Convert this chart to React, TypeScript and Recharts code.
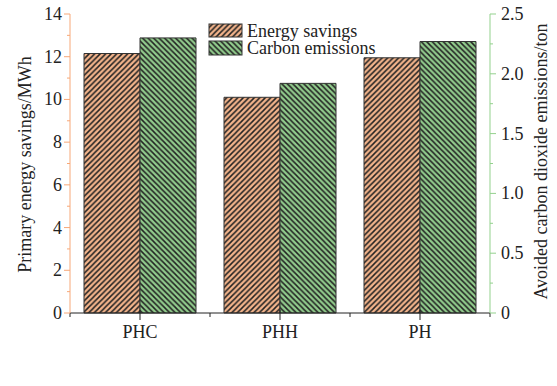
import React from 'react';
import { BarChart, Bar, XAxis, YAxis, Legend } from 'recharts';

const categories = ['PHC', 'PHH', 'PH'];
const energySavings = [12.15, 10.1, 11.95];
const carbonEmissions = [2.3, 1.92, 2.27];
const leftTicks = [0, 1, 2, 3, 4, 5, 6, 7, 8, 9, 10, 11, 12, 13, 14];
const rightTicks = [0, 0.25, 0.5, 0.75, 1, 1.25, 1.5, 1.75, 2, 2.25, 2.5];

const data = categories.map((c, i) => ({ category: c, energy: energySavings[i], carbon: carbonEmissions[i] }));

const ORANGE = '#F3B48B';
const GREEN = '#91CB8C';
const ORANGE_AXIS = '#F7A878';
const GREEN_AXIS = '#93D18D';
const FONT = '"Liberation Serif", "Times New Roman", serif';

const Patterns = ({ suffix }: { suffix: string }) => (
  <defs>
    <pattern id={`hatchO${suffix}`} patternUnits="userSpaceOnUse" width="5.5" height="5.5">
      <rect width="5.5" height="5.5" fill={ORANGE} />
      <path d="M0,5.5 L5.5,0 M-1.375,1.375 L1.375,-1.375 M4.125,6.875 L6.875,4.125" stroke="#222" strokeWidth="1.5" />
    </pattern>
    <pattern id={`hatchG${suffix}`} patternUnits="userSpaceOnUse" width="5.5" height="5.5">
      <rect width="5.5" height="5.5" fill={GREEN} />
      <path d="M0,0 L5.5,5.5 M-1.375,4.125 L1.375,6.875 M4.125,-1.375 L6.875,1.375" stroke="#222" strokeWidth="1.5" />
    </pattern>
  </defs>
);

const LeftTick = (props: any) => {
  const { x, y, payload } = props;
  const v = payload.value;
  const major = Math.round(v) % 2 === 0;
  return (
    <g>
      <line x1={x} x2={x - (major ? 6 : 3)} y1={y} y2={y} stroke={ORANGE_AXIS} strokeWidth={1} />
      {major && (
        <text x={x - 8} y={y + 6} textAnchor="end" fontSize={18} fontFamily={FONT} fill="#222">
          {v}
        </text>
      )}
    </g>
  );
};

const RightTick = (props: any) => {
  const { x, y, payload } = props;
  const v = payload.value;
  const major = Math.abs(v * 2 - Math.round(v * 2)) < 1e-6;
  return (
    <g>
      <line x1={x} x2={x + (major ? 6 : 3)} y1={y} y2={y} stroke={GREEN_AXIS} strokeWidth={1} />
      {major && (
        <text x={x + 11} y={y + 6} textAnchor="start" fontSize={18} fontFamily={FONT} fill="#222">
          {v === 0 ? '0' : v.toFixed(1)}
        </text>
      )}
    </g>
  );
};

const BottomTick = (props: any) => {
  const { x, y, payload, index } = props;
  const off = payload.offset || 70;
  const last = index === categories.length - 1;
  return (
    <g>
      <line x1={x} x2={x} y1={y - 3} y2={y + 7} stroke="#222" />
      <line x1={x - off} x2={x - off} y1={y} y2={y + 4} stroke="#222" />
      {last && <line x1={x + off} x2={x + off} y1={y} y2={y + 4} stroke="#222" />}
      <text x={x} y={y + 25} textAnchor="middle" fontSize={18} fontFamily={FONT} fill="#222">
        {payload.value}
      </text>
    </g>
  );
};

const TopTick = (props: any) => {
  const { x, y, payload, index } = props;
  const off = payload.offset || 70;
  const last = index === categories.length - 1;
  return (
    <g>
      <line x1={x} x2={x} y1={y} y2={y + 5} stroke="#222" />
      <line x1={x - off} x2={x - off} y1={y} y2={y + 4} stroke="#222" />
      {last && <line x1={x + off} x2={x + off} y1={y} y2={y + 4} stroke="#222" />}
    </g>
  );
};

const LegendContent = () => (
  <svg width={200} height={40} style={{ display: 'block', overflow: 'visible' }}>
    <Patterns suffix="L" />
    <rect x={1} y={1} width={33} height={13} fill="url(#hatchOL)" stroke="#333" strokeWidth={1} />
    <text x={39} y={14} fontSize={18} fontFamily={FONT} fill="#222">Energy savings</text>
    <rect x={1} y={18} width={33} height={14} fill="url(#hatchGL)" stroke="#333" strokeWidth={1} />
    <text x={39} y={31} fontSize={18} fontFamily={FONT} fill="#222">Carbon emissions</text>
  </svg>
);

const LeftLabel = (props: any) => {
  const vb = props.viewBox || { x: 0, y: 14, width: 70, height: 339 };
  const cx = vb.x + 25;
  const cy = vb.y + vb.height / 2 + 1;
  return (
    <text x={cx} y={cy} transform={`rotate(-90 ${cx} ${cy})`} textAnchor="middle" dominantBaseline="central" fontSize={18} fontFamily={FONT} fill="#222">
      Primary energy savings/MWh
    </text>
  );
};

const RightLabel = (props: any) => {
  const vb = props.viewBox || { x: 490, y: 14, width: 67, height: 339 };
  const cx = vb.x + 51;
  const cy = vb.y + vb.height / 2 - 2;
  return (
    <text x={cx} y={cy} transform={`rotate(-90 ${cx} ${cy})`} textAnchor="middle" dominantBaseline="central" fontSize={18} fontFamily={FONT} fill="#222">
      Avoided carbon dioxide emissions/ton
    </text>
  );
};

export default function App() {
  return (
    <div style={{ position: 'absolute', left: 0, top: 0, width: 557, height: 386, background: '#fff' }}>
      <BarChart
        width={557}
        height={386}
        data={data}
        margin={{ top: 14, right: 0, bottom: 0, left: 0 }}
        barCategoryGap="10%"
        barGap={0}
      >
        <Patterns suffix="" />
        <XAxis
          xAxisId="cat"
          dataKey="category"
          orientation="bottom"
          height={33}
          axisLine={{ stroke: '#222' }}
          tickLine={false}
          tickSize={0}
          tickMargin={0}
          tick={<BottomTick />}
          interval={0}
        />
        <XAxis
          xAxisId="top"
          dataKey="category"
          orientation="top"
          height={0}
          axisLine={{ stroke: '#222' }}
          tickLine={false}
          tickSize={0}
          tickMargin={0}
          tick={<TopTick />}
          interval={0}
        />
        <YAxis
          yAxisId="left"
          orientation="left"
          width={70}
          domain={[0, 14]}
          ticks={leftTicks}
          interval={0}
          axisLine={{ stroke: ORANGE_AXIS }}
          tickLine={false}
          tickSize={0}
          tickMargin={0}
          tick={<LeftTick />}
          label={<LeftLabel />}
        />
        <YAxis
          yAxisId="right"
          orientation="right"
          width={67}
          domain={[0, 2.5]}
          ticks={rightTicks}
          interval={0}
          axisLine={{ stroke: GREEN_AXIS }}
          tickLine={false}
          tickSize={0}
          tickMargin={0}
          tick={<RightTick />}
          label={<RightLabel />}
        />
        <Legend
          content={<LegendContent />}
          wrapperStyle={{ position: 'absolute', left: 208, top: 23, width: 200, height: 40 }}
        />
        <Bar
          xAxisId="cat"
          yAxisId="left"
          dataKey="energy"
          name="Energy savings"
          fill="url(#hatchO)"
          stroke="#333"
          strokeWidth={1}
          isAnimationActive={false}
        />
        <Bar
          xAxisId="cat"
          yAxisId="right"
          dataKey="carbon"
          name="Carbon emissions"
          fill="url(#hatchG)"
          stroke="#333"
          strokeWidth={1}
          isAnimationActive={false}
        />
      </BarChart>
    </div>
  );
}
